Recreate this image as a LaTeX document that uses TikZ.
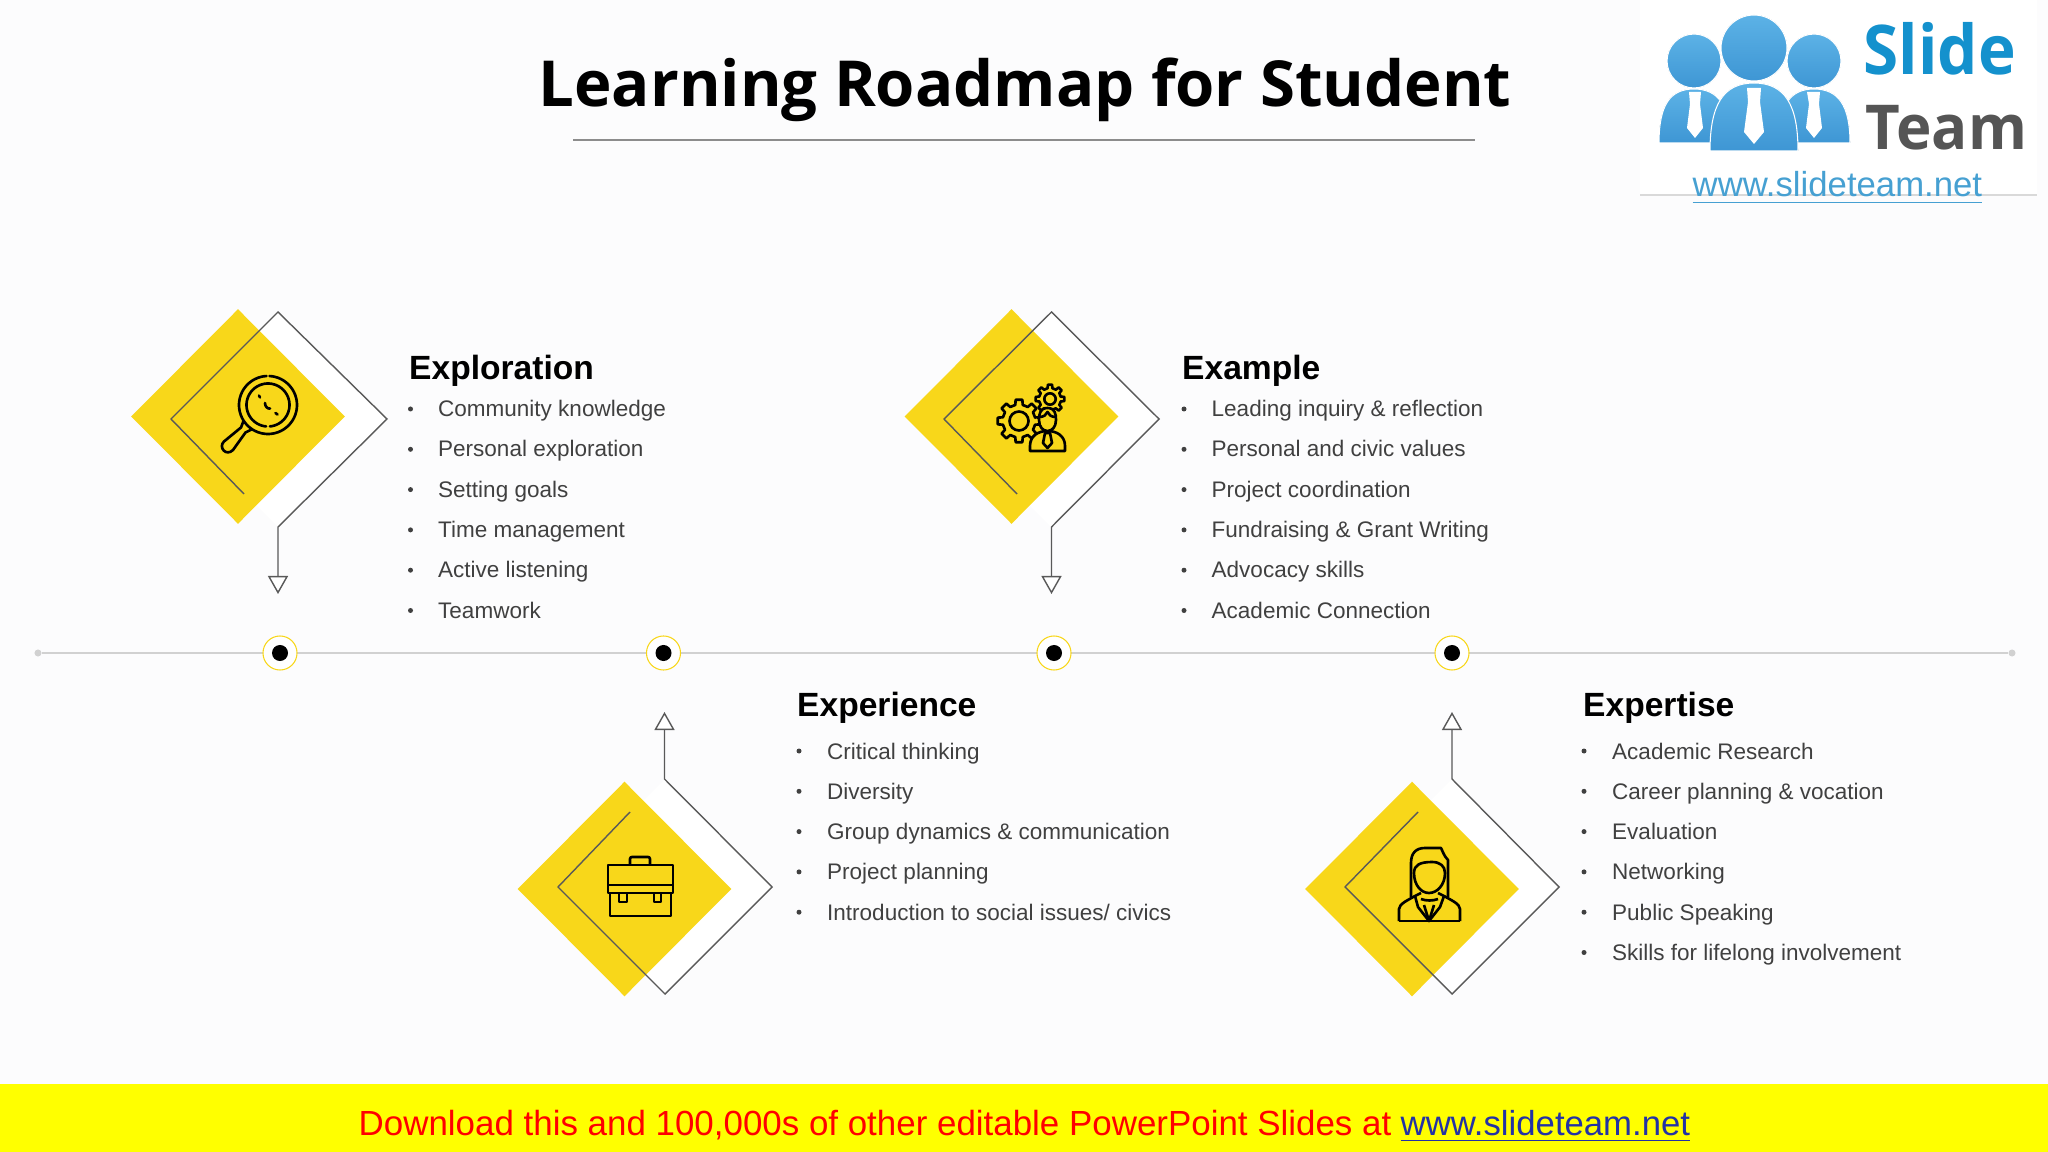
\documentclass[tikz,border=0pt]{standalone}
\usepackage{fontspec}
\setmainfont{Liberation Sans}
\newfontfamily\titlefont{Open Sans}
\usetikzlibrary{positioning,arrows.meta,shapes.geometric}
\definecolor{pagecolor}{RGB}{252, 252, 253}
\definecolor{diamondcolor}{RGB}{248, 215, 26}
\definecolor{bodycolor}{RGB}{64, 64, 64}
\definecolor{bannercolor}{RGB}{255, 255, 0}
\definecolor{linkcolor}{RGB}{35, 50, 165}
\definecolor{logolink}{RGB}{70, 160, 210}
\definecolor{logoblue}{RGB}{20, 145, 205}
\definecolor{logogray}{RGB}{85, 85, 85}
\definecolor{logotop}{RGB}{92, 178, 230}
\definecolor{logobottom}{RGB}{62, 150, 212}
\tikzset{
    main title/.style={font=\titlefont\bfseries\fontsize{18.05pt}{20pt}\selectfont, anchor=base, inner sep=0pt},
    step title/.style={font=\bfseries\fontsize{9.55pt}{11pt}\selectfont, anchor=base west, inner sep=0pt, text=black},
    step item/.style={font=\fontsize{6.4pt}{8pt}\selectfont, anchor=base west, inner sep=0pt, text=bodycolor},
    list bullet/.style={circle, fill=bodycolor, minimum size=0.05cm, inner sep=0pt},
    yellow diamond/.style={diamond, aspect=1, fill=diamondcolor, minimum width=2.14cm, minimum height=2.15cm, inner sep=0pt},
    pointer/.style={draw=black!65, line width=0.4pt, line join=miter, -{Triangle[open, fill=white, length=0.18cm, width=0.2cm]}},
    timeline/.style={draw=black!18, line width=0.7pt},
    line end/.style={circle, fill=black!18, minimum size=0.07cm, inner sep=0pt},
    stop ring/.style={circle, draw=diamondcolor, line width=0.3pt, fill=white, minimum size=0.34cm, inner sep=0pt},
    stop dot/.style={circle, fill=black, minimum size=0.16cm, inner sep=0pt},
    icon line/.style={draw=black, line width=0.75pt, line join=round},
    logo person/.style={top color=logotop, bottom color=logobottom, draw=white, line width=0.3pt},
    banner text/.style={font=\fontsize{9.87pt}{12pt}\selectfont, anchor=base west, inner sep=0pt},
}
\begin{document}
\begin{tikzpicture}[x=0.01cm, y=-0.01cm]
    \useasboundingbox (0,0) rectangle (2048,1152);
    \fill[pagecolor] (0,0) rectangle (2048,1152);

    % Title and rule under it
    \node[main title] (title) at (1025,107) {Learning Roadmap for Student};
    \coordinate (ruleL) at (573,140);
    \coordinate (ruleR) at (1475,140);
    \draw[black!45, line width=0.3pt] (ruleL) -- (ruleR);

    % Logo box
    \fill[white] (1640,0) rectangle (2037,195);
    \draw[black!15, line width=0.3pt] (1640,195) -- (2037,195);
    \fill[logo person] (1659,143) .. controls (1659,105) and (1670,89) .. (1694,89) .. controls (1718,89) and (1730,105) .. (1730,143) -- cycle;
    \fill[logo person] (1779,143) .. controls (1779,105) and (1790,89) .. (1814,89) .. controls (1838,89) and (1850,105) .. (1850,143) -- cycle;
    \fill[logo person] (1694,61) circle[radius=27];
    \fill[logo person] (1814,61) circle[radius=27];
    \fill[logo person] (1710,151) .. controls (1710,105) and (1723,83) .. (1754,83) .. controls (1785,83) and (1798,105) .. (1798,151) -- cycle;
    \fill[logo person] (1754,48) circle[radius=33];
    \fill[white] (1689,92) -- (1701,92) -- (1700,104) -- (1703,128) -- (1695,138) -- (1687,128) -- (1690,104) -- cycle;
    \fill[white] (1807,92) -- (1820,92) -- (1819,104) -- (1822,128) -- (1814,138) -- (1806,128) -- (1809,104) -- cycle;
    \fill[white] (1747,88) -- (1761,88) -- (1760,102) -- (1764,132) -- (1754,144) -- (1744,132) -- (1748,102) -- cycle;
    \node[font=\titlefont\bfseries\fontsize{19.5pt}{22pt}\selectfont, text=logoblue, anchor=base west, inner sep=0pt] (logoslide) at (1863,75) {\scalebox{0.93}[1]{Slide}};
    \node[font=\titlefont\bfseries\fontsize{17.6pt}{22pt}\selectfont, text=logogray, anchor=base west, inner sep=0pt] (logoteam) at (1865,150) {\scalebox{0.97}[1]{Team}};
    \node[banner text, text=logolink] (logolink) at (1692,197) {\underline{www.slideteam.net}};

    % Timeline with its four stops
    \node[line end] (lineL) at (38,653) {};
    \node[line end] (lineR) at (2012,653) {};
    \draw[timeline] (lineL) -- (lineR);
    \foreach \name/\x in {stopa/280, stopb/663.5, stopc/1054, stopd/1452} {
        \node[stop ring] (\name) at (\x,653) {};
        \node[stop dot] (\name dot) at (\x,653) {};
    }

    % Exploration
    \fill[white] (278,312) -- (387,419) -- (278,527) -- (171,419) -- cycle;
    \node[yellow diamond] (diaa) at (238,416.5) {};
    \coordinate (enda) at (244,494);
    \coordinate (lefta) at (171,419);
    \coordinate (topa) at (278,312);
    \coordinate (righta) at (387,419);
    \coordinate (turna) at (278,527);
    \coordinate (tipa) at (278,594);
    \draw[pointer] (enda) -- (lefta) -- (topa) -- (righta) -- (turna) -- (tipa);
    \node[step title] (titlea) at (408.5,379.5) {Exploration};
    \foreach \n/\t in {1/Community knowledge, 2/Personal exploration, 3/Setting goals, 4/Time management, 5/Active listening, 6/Teamwork} {
        \node[list bullet] (bulleta\n) at (410.5,{409+40.3*(\n-1)}) {};
        \node[step item] (itema\n) at (437.5,{416.7+40.3*(\n-1)}) {\t};
    }

    % Magnifier icon
    \draw[icon line, line cap=round] plot[domain=273:627, samples=60] ({268+29*cos(\x)},{405+29*sin(\x)});
    \draw[icon line, line cap=round] plot[domain=95:445, samples=60] ({268+21.5*cos(\x)},{405+21.5*sin(\x)});
    \draw[icon line, line cap=round] (259,395.5) -- (260,397.5);
    \draw[icon line, line cap=round] (265,403) .. controls (265,407) and (268,409) .. (270,408.5);
    \draw[icon line, line cap=round] (275.5,413) -- (277.5,414.5);
    \draw[icon line] (243.5,421) -- (241,427.5) -- (224,441.5) .. controls (218,447) and (226,457) .. (233,450) -- (245.5,432.5) -- (251.5,429.5);

    % Example
    \fill[white] (1051.5,312) -- (1159,419) -- (1051,527) -- (944,419) -- cycle;
    \node[yellow diamond] (diac) at (1011.5,416.5) {};
    \coordinate (endc) at (1017,494);
    \coordinate (leftc) at (944,419);
    \coordinate (topc) at (1051.5,312);
    \coordinate (rightc) at (1159,419);
    \coordinate (turnc) at (1051.5,527);
    \coordinate (tipc) at (1051.5,594);
    \draw[pointer] (endc) -- (leftc) -- (topc) -- (rightc) -- (turnc) -- (tipc);
    \node[step title] (titlec) at (1181.5,379.5) {Example};
    \foreach \n/\t in {1/Leading inquiry \& reflection, 2/Personal and civic values, 3/Project coordination, 4/Fundraising \& Grant Writing, 5/Advocacy skills, 6/Academic Connection} {
        \node[list bullet] (bulletc\n) at (1184,{409+40.3*(\n-1)}) {};
        \node[step item] (itemc\n) at (1211,{416.7+40.3*(\n-1)}) {\t};
    }

    % Gears and person icon
    \begin{scope}[shift={(1019,421)}]
        \draw[icon line] (-11.25:16.5) \foreach \a in {0,45,...,315} { -- (\a-13:16.5) -- (\a-9:21.5) -- (\a+9:21.5) -- (\a+13:16.5) } -- cycle;
        \draw[icon line] (0,0) circle[radius=9.5];
    \end{scope}
    \begin{scope}[shift={(1050,399)}]
        \draw[icon line] (-11.25:11) \foreach \a in {0,45,...,315} { -- (\a-13:11) -- (\a-8:14.5) -- (\a+8:14.5) -- (\a+13:11) } -- cycle;
        \draw[icon line] (0,0) circle[radius=5.7];
    \end{scope}
    \draw[icon line, fill=diamondcolor] (1030,451) -- (1030,446) .. controls (1030,436) and (1038,431) .. (1047.5,431) .. controls (1057,431) and (1065,436) .. (1065,446) -- (1065,451) -- cycle;
    \draw[icon line, fill=diamondcolor] (1047.5,408) .. controls (1040,408) and (1039,414) .. (1039,420) .. controls (1039,427) and (1043,431) .. (1047.5,431) .. controls (1052,431) and (1056,427) .. (1056,420) .. controls (1056,414) and (1055,408) .. (1047.5,408) -- cycle;
    \draw[icon line] (1039,417) .. controls (1044,417) and (1046,415) .. (1047.5,412) .. controls (1049,415) and (1051,417) .. (1056,417);
    \draw[icon line] (1045,433) -- (1050,433) -- (1052,443) -- (1047.5,448) -- (1043,443) -- cycle;

    % Experience
    \fill[white] (665,779) -- (772,887) -- (665,994) -- (558,887) -- cycle;
    \node[yellow diamond] (diab) at (624.5,889) {};
    \coordinate (endb) at (630,812);
    \coordinate (leftb) at (558,887);
    \coordinate (bottomb) at (665,994);
    \coordinate (rightb) at (772,887);
    \coordinate (turnb) at (664.5,779);
    \coordinate (tipb) at (664.5,712);
    \draw[pointer] (endb) -- (leftb) -- (bottomb) -- (rightb) -- (turnb) -- (tipb);
    \node[step title] (titleb) at (796.5,716.5) {Experience};
    \foreach \n/\t in {1/Critical thinking, 2/Diversity, 3/Group dynamics \& communication, 4/Project planning, 5/{Introduction to social issues/ civics}} {
        \node[list bullet] (bulletb\n) at (799,{751+40.3*(\n-1)}) {};
        \node[step item] (itemb\n) at (826.5,{759.3+40.2*(\n-1)}) {\t};
    }

    % Briefcase icon
    \draw[icon line] (630,865) -- (630,859) .. controls (630,857.5) and (631,857) .. (632,857) -- (648,857) .. controls (649,857) and (650,857.5) .. (650,859) -- (650,865);
    \draw[icon line] (608,865) rectangle (673,893);
    \draw[icon line] (608,885) -- (673,885);
    \draw[icon line] (610,893) -- (610,916) -- (671,916) -- (671,893);
    \draw[icon line] (619,893) rectangle (627,902);
    \draw[icon line] (654,893) rectangle (661,902);

    % Expertise
    \fill[white] (1452,779) -- (1559,887) -- (1452,994) -- (1345,887) -- cycle;
    \node[yellow diamond] (diad) at (1412,889) {};
    \coordinate (endd) at (1418,812);
    \coordinate (leftd) at (1345,887);
    \coordinate (bottomd) at (1452,994);
    \coordinate (rightd) at (1559,887);
    \coordinate (turnd) at (1452,779);
    \coordinate (tipd) at (1452,712);
    \draw[pointer] (endd) -- (leftd) -- (bottomd) -- (rightd) -- (turnd) -- (tipd);
    \node[step title] (titled) at (1582.5,716.5) {Expertise};
    \foreach \n/\t in {1/Academic Research, 2/Career planning \& vocation, 3/Evaluation, 4/Networking, 5/Public Speaking, 6/Skills for lifelong involvement} {
        \node[list bullet] (bulletd\n) at (1584,{751+40.3*(\n-1)}) {};
        \node[step item] (itemd\n) at (1611.5,{759.3+40.2*(\n-1)}) {\t};
    }

    % Woman icon
    \draw[icon line] (1411,897) -- (1411,863) .. controls (1411,853) and (1416,848) .. (1425,848) -- (1441,848) .. controls (1443,852) and (1444,856) .. (1448,860) -- (1448,897);
    \draw[icon line] (1414,873) .. controls (1414,865) and (1420,862) .. (1432,862) .. controls (1440,862) and (1445,866) .. (1445,873) .. controls (1445,885) and (1437,893) .. (1429,893) .. controls (1421,893) and (1414,885) .. (1414,873) -- cycle;
    \draw[icon line] (1399,921) -- (1399,909) .. controls (1399,904) and (1408,900) .. (1415,896) -- (1421,893);
    \draw[icon line] (1460,921) -- (1460,909) .. controls (1460,904) and (1451,900) .. (1444,896) -- (1438,893);
    \draw[icon line] (1399,921) -- (1460,921);
    \draw[icon line] (1415,896) -- (1418,907) -- (1429,921) -- (1440,907) -- (1444,896);
    \draw[icon line] (1421,899) .. controls (1426,901) and (1433,901) .. (1438,899);
    \draw[icon line] (1424,905) -- (1429,921) -- (1434,905);

    % Download banner
    \fill[bannercolor] (0,1084) rectangle (2048,1152);
    \node[banner text, text=red, font=\fontsize{9.93pt}{12pt}\selectfont] (bannertext) at (358,1135) {Download this and 100,000s of other editable PowerPoint Slides at};
    \node[banner text, text=linkcolor] (bannerlink) at (1400,1135) {\underline{www.slideteam.net}};
\end{tikzpicture}
\end{document}
